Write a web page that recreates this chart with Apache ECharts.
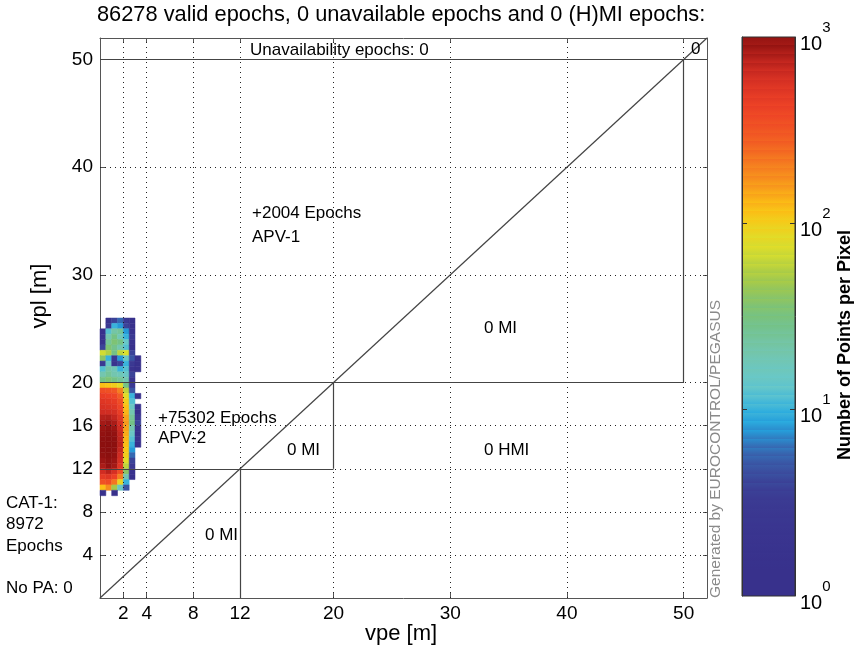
<!DOCTYPE html>
<html><head><meta charset="utf-8">
<script src="https://cdn.jsdelivr.net/npm/echarts@6/dist/echarts.min.js"></script>
<style>html,body{margin:0;padding:0;background:#fff}#c{width:858px;height:658px}</style>
</head><body><div id="c"></div>
<script>
// ---------------- data ----------------
const titleText = '86278 valid epochs, 0 unavailable epochs and 0 (H)MI epochs:';
const vpeTicks = [2, 4, 8, 12, 20, 30, 40, 50];
const vplTicks = [4, 8, 12, 16, 20, 30, 40, 50];
const axisMax = 52;
const alertLimits = [12, 20, 50];
const binSize = 0.5;
const vpeBins = [0, 0.5, 1, 1.5, 2, 2.5, 3];
const vplBins = [25.5, 25, 24.5, 24, 23.5, 23, 22.5, 22, 21.5, 21, 20.5, 20, 19.5, 19, 18.5, 18, 17.5, 17,
                 16.5, 16, 15.5, 15, 14.5, 14, 13.5, 13, 12.5, 12, 11.5, 11, 10.5, 10, 9.5];
const densityCounts = [
  [0, 2, 4, 6, 3, 1, 0],
  [0, 3, 10, 8, 4, 1, 0],
  [1, 12, 22, 25, 8, 2, 0],
  [2, 20, 30, 18, 10, 3, 0],
  [1, 25, 35, 30, 14, 2, 0],
  [4, 35, 28, 20, 12, 1, 0],
  [70, 55, 30, 60, 75, 4, 0],
  [40, 10, 3, 8, 15, 5, 1],
  [3, 15, 2, 4, 10, 3, 1],
  [12, 22, 18, 10, 12, 2, 1],
  [20, 25, 20, 18, 15, 4, 0],
  [30, 35, 30, 25, 20, 2, 0],
  [120, 110, 100, 80, 30, 3, 0],
  [350, 330, 300, 200, 60, 5, 0],
  [450, 430, 400, 280, 80, 10, 1],
  [520, 500, 460, 350, 100, 12, 0],
  [580, 560, 520, 400, 120, 15, 2],
  [650, 640, 600, 450, 130, 20, 1],
  [760, 780, 700, 520, 150, 25, 3],
  [850, 900, 820, 600, 160, 30, 4],
  [920, 960, 900, 650, 150, 20, 2],
  [950, 990, 950, 700, 140, 15, 1],
  [980, 1000, 980, 720, 130, 12, 2],
  [990, 1000, 990, 740, 120, 10, 1],
  [980, 1000, 980, 700, 110, 8, 0],
  [960, 990, 950, 650, 100, 6, 0],
  [900, 960, 900, 600, 80, 4, 0],
  [820, 950, 850, 520, 60, 3, 0],
  [650, 750, 600, 350, 40, 2, 0],
  [480, 520, 420, 200, 20, 1, 0],
  [330, 360, 220, 90, 10, 0, 0],
  [120, 180, 50, 15, 5, 0, 0],
  [1, 0, 1, 0, 0, 0, 0]
];
const colorbarTicks = [1, 10, 100, 1000];
const colorbarInnerTicks = [10, 100];
const colorbarName = 'Number of Points per Pixel';

// ---------------- build ----------------
const palette = ['#38318c','#38318c','#3a3590','#3b3c93','#3a5eaa','#22a8e2','#66c8cc','#74c6ae',
  '#74c180','#a0c84c','#dce02c','#fcc414','#f68c1e','#f25e23','#ed4026','#d02c22','#8a0f0f'];

const cells = [];
vplBins.forEach((y, r) => {
  vpeBins.forEach((x, c) => {
    const v = densityCounts[r][c];
    if (v > 0) cells.push([x, y, v, Math.log10(v)]);
  });
});

const segments = [];
alertLimits.forEach((L, i) => {
  const prev = i > 0 ? alertLimits[i - 1] : 0;
  const next = i < alertLimits.length - 1 ? alertLimits[i + 1] : axisMax;
  segments.push([{coord: [L, prev]}, {coord: [L, L]}]);
  segments.push([{coord: [0, L]}, {coord: [next, L]}]);
});
segments.push([{coord: [0, 0]}, {coord: [axisMax, axisMax]}]);

const gridLines = vpeTicks.map(v => ({xAxis: v})).concat(vplTicks.map(v => ({yAxis: v})));

// stepped colour bar stops
const nBands = 64, barStops = [];
for (let i = 0; i < nBands; i++) {
  const col = echarts.color.lerp((i + 0.5) / nBands, palette);
  barStops.push({offset: 1 - (i + 1) / nBands, color: col});
  barStops.push({offset: 1 - i / nBands, color: col});
}
barStops.sort((a, b) => a.offset - b.offset);

const FONT = "'Liberation Sans', Arial, Helvetica, sans-serif";
const axisColor = '#555';
const lbl = (text, x, y, size, extra) => Object.assign({
  type: 'text', x: x, y: y, silent: true, z: 50,
  style: {text: text, fill: '#000', font: size + 'px ' + FONT, textAlign: 'left', textVerticalAlign: 'middle'}
}, extra || {});

const chart = echarts.init(document.getElementById('c'), null, {renderer: 'canvas'});
const option = {
  animation: false,
  backgroundColor: '#fff',
  textStyle: {fontFamily: FONT},
  grid: [
    {left: 100, top: 38, width: 607, height: 560},
    {left: 742, top: 37, width: 53, height: 559}
  ],
  xAxis: [
    {type: 'value', gridIndex: 0, min: 0, max: axisMax, position: 'bottom',
     axisLine: {show: true, onZero: false, lineStyle: {color: axisColor}},
     axisTick: {show: true, inside: true, length: 5, customValues: vpeTicks, lineStyle: {color: axisColor}},
     axisLabel: {customValues: vpeTicks, color: '#000', fontSize: 19, margin: 6, hideOverlap: false},
     splitLine: {show: false}},
    {type: 'value', gridIndex: 0, min: 0, max: axisMax, position: 'top',
     axisLine: {show: true, onZero: false, lineStyle: {color: axisColor}},
     axisTick: {show: true, inside: true, length: 4, customValues: vpeTicks, lineStyle: {color: axisColor}},
     axisLabel: {show: false}, splitLine: {show: false}},
    {type: 'value', gridIndex: 1, min: 0, max: 1, show: false}
  ],
  yAxis: [
    {type: 'value', gridIndex: 0, min: 0, max: axisMax, position: 'left',
     axisLine: {show: true, onZero: false, lineStyle: {color: axisColor}},
     axisTick: {show: true, inside: true, length: 5, customValues: vplTicks, lineStyle: {color: axisColor}},
     axisLabel: {customValues: vplTicks, color: '#000', fontSize: 19, margin: 7, hideOverlap: false},
     splitLine: {show: false}},
    {type: 'value', gridIndex: 0, min: 0, max: axisMax, position: 'right',
     axisLine: {show: true, onZero: false, lineStyle: {color: axisColor}},
     axisTick: {show: true, inside: true, length: 4, customValues: vplTicks, lineStyle: {color: axisColor}},
     axisLabel: {show: false}, splitLine: {show: false}},
    {type: 'log', gridIndex: 1, min: colorbarTicks[0], max: colorbarTicks[colorbarTicks.length - 1],
     logBase: 10, position: 'right', zlevel: 1, z: 10,
     axisLine: {show: true, onZero: false, lineStyle: {color: '#333'}},
     axisTick: {show: true, inside: true, length: 5, customValues: colorbarInnerTicks, lineStyle: {color: '#333'}},
     minorTick: {show: false},
     axisLabel: {
       margin: 5, color: '#000', customValues: colorbarTicks,
       formatter: v => '{b|10}{s|' + Math.round(Math.log10(v)) + '}',
       rich: {
         b: {fontSize: 20, lineHeight: 34, verticalAlign: 'bottom', fontFamily: FONT, color: '#000'},
         s: {fontSize: 15, verticalAlign: 'top', fontFamily: FONT, color: '#000'}
       }
     },
     splitLine: {show: false}},
    {type: 'log', gridIndex: 1, min: colorbarTicks[0], max: colorbarTicks[colorbarTicks.length - 1],
     logBase: 10, position: 'left', zlevel: 1, z: 10,
     axisLine: {show: true, onZero: false, lineStyle: {color: '#333'}},
     axisTick: {show: true, inside: true, length: 5, customValues: colorbarInnerTicks, lineStyle: {color: '#333'}},
     axisLabel: {show: false}, splitLine: {show: false}}
  ],
  visualMap: [{
    type: 'continuous', show: false, min: 0, max: 3, dimension: 3, seriesIndex: 0,
    inRange: {color: palette}
  }],
  series: [
    {
      type: 'custom', xAxisIndex: 0, yAxisIndex: 0, z: 1, silent: true,
      encode: {x: 0, y: 1},
      data: cells,
      renderItem: (params, api) => {
        const x0 = api.value(0), y0 = api.value(1);
        const p0 = api.coord([x0, y0]);
        const p1 = api.coord([x0 + binSize, y0 + binSize]);
        const col = api.visual('color');
        return {
          type: 'rect',
          shape: {x: p0[0], y: p1[1], width: p1[0] - p0[0], height: p0[1] - p1[1]},
          style: {fill: col, stroke: col, lineWidth: 0.5}
        };
      }
    },
    {
      type: 'line', xAxisIndex: 0, yAxisIndex: 0, z: 3, data: [], silent: true,
      markLine: {
        silent: true, symbol: ['none', 'none'], animation: false,
        label: {show: false},
        lineStyle: {color: '#222', width: 1, type: [1, 4]},
        emphasis: {disabled: true},
        data: gridLines
      }
    },
    {
      type: 'line', xAxisIndex: 0, yAxisIndex: 0, z: 4, data: [], silent: true,
      markLine: {
        silent: true, symbol: ['none', 'none'], animation: false,
        label: {show: false},
        lineStyle: {color: '#444', width: 1.2, type: 'solid'},
        emphasis: {disabled: true},
        data: segments
      }
    }
  ],
  graphic: [
    {type: 'rect', z: -1, silent: true,
     shape: {x: 742, y: 37, width: 53, height: 559},
     style: {fill: {type: 'linear', x: 0, y: 0, x2: 0, y2: 1, colorStops: barStops}, stroke: '#333', lineWidth: 1}},
    lbl(titleText, 97, 15, 21.8),
    lbl('Unavailability epochs: 0', 250, 50, 17),
    lbl('0', 691, 49, 17),
    lbl('+2004 Epochs', 252, 213, 17),
    lbl('APV-1', 252, 237, 17),
    lbl('0 MI', 484, 328, 17),
    lbl('+75302 Epochs', 158, 418, 17),
    lbl('APV-2', 158, 438, 17),
    lbl('0 MI', 287, 450, 17),
    lbl('0 HMI', 484, 450, 17),
    lbl('0 MI', 205, 535, 17),
    lbl('CAT-1:', 6, 503, 17),
    lbl('8972', 6, 524, 17),
    lbl('Epochs', 6, 546, 17),
    lbl('No PA: 0', 6, 588, 17),
    {type: 'text', x: 401, y: 634, z: 50, silent: true,
     style: {text: 'vpe [m]', fill: '#000', font: '22px ' + FONT, textAlign: 'center', textVerticalAlign: 'middle'}},
    {type: 'text', x: 40, y: 296, rotation: Math.PI / 2, z: 50, silent: true,
     style: {text: 'vpl [m]', fill: '#000', font: '22px ' + FONT, textAlign: 'center', textVerticalAlign: 'middle'}},
    {type: 'text', x: 716, y: 598, rotation: Math.PI / 2, z: 50, silent: true,
     style: {text: 'Generated by EUROCONTROL/PEGASUS', fill: '#8a8a8a', font: '15.5px ' + FONT, textAlign: 'left', textVerticalAlign: 'middle'}},
    {type: 'text', x: 845, y: 345, rotation: Math.PI / 2, z: 50, silent: true,
     style: {text: colorbarName, fill: '#000', font: 'bold 18px ' + FONT, textAlign: 'center', textVerticalAlign: 'middle'}}
  ]
};
chart.setOption(option);
</script>
</body></html>
